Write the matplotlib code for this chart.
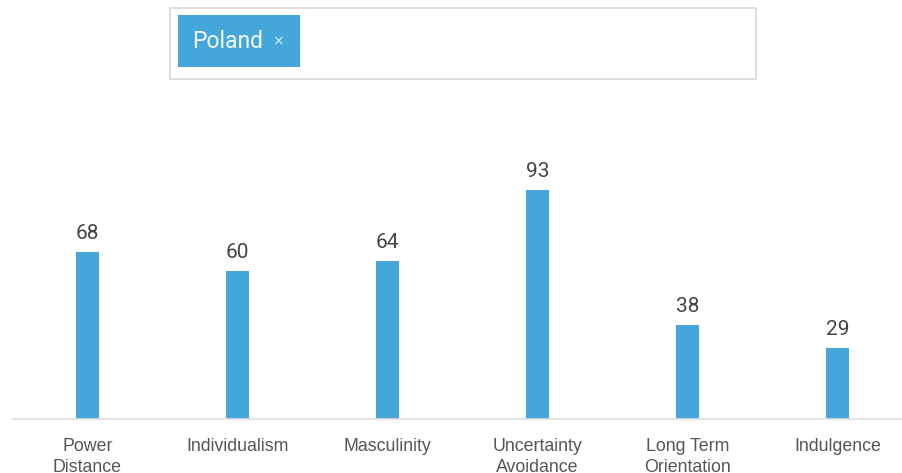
import numpy as np
import matplotlib.pyplot as plt
from matplotlib.patches import Rectangle

categories = ["Power\nDistance", "Individualism", "Masculinity",
              "Uncertainty\nAvoidance", "Long Term\nOrientation", "Indulgence"]
scores = [68, 60, 64, 93, 38, 29]
country = "Poland"

W, H = 903, 473
bar_color = "#45a6d9"

fig = plt.figure(figsize=(W / 100, H / 100), dpi=100)
fig.patch.set_facecolor("white")

# country selector box on top
fig.patches.append(Rectangle((170 / W, 1 - 79 / H), 586 / W, 71 / H,
                             transform=fig.transFigure, facecolor="white",
                             edgecolor="#d8d8d8", linewidth=1.2))
fig.patches.append(Rectangle((178.5 / W, 1 - 67 / H), 122 / W, 51.5 / H,
                             transform=fig.transFigure, facecolor=bar_color,
                             edgecolor="none"))
fig.text(192 / W, 1 - 41.5 / H, country, color="#f4f9fd", fontsize=16.5,
         family="Roboto", ha="left", va="center")
fig.text(278 / W, 1 - 41.5 / H, "\u00d7", color="#dbe9f3", fontsize=10,
         family="DejaVu Sans", ha="center", va="center")

# bar chart area: baseline at y=419, 150 px per category
# (second lines of the long labels run off the bottom edge)
ax_left, ax_bottom = 12.5, 419
ax = fig.add_axes([ax_left / W, 1 - ax_bottom / H, 900 / W, 300 / H])
ax.set_xlim(-0.5, 5.5)
ax.set_ylim(0, 300 / 2.462)

x = np.arange(len(categories))
bars = ax.bar(x, scores, width=0.147, color=bar_color, zorder=2)
for xi, v in zip(x, scores):
    ax.annotate(str(v), (xi, v), xytext=(0, 6.5), textcoords="offset points",
                ha="center", va="bottom", fontsize=15, color="#444444",
                family="Roboto")

for s in ["top", "right", "left"]:
    ax.spines[s].set_visible(False)
ax.spines["bottom"].set_color("#dddddd")
ax.spines["bottom"].set_linewidth(1.2)
ax.set_yticks([])
ax.set_xticks(x)
ax.set_xticklabels(categories, fontsize=12.8, color="#555555",
                   family="Liberation Sans", linespacing=1.3)
ax.tick_params(axis="x", length=0, pad=14)
ax.set_facecolor("none")

fig.savefig("out.png", dpi=100)
